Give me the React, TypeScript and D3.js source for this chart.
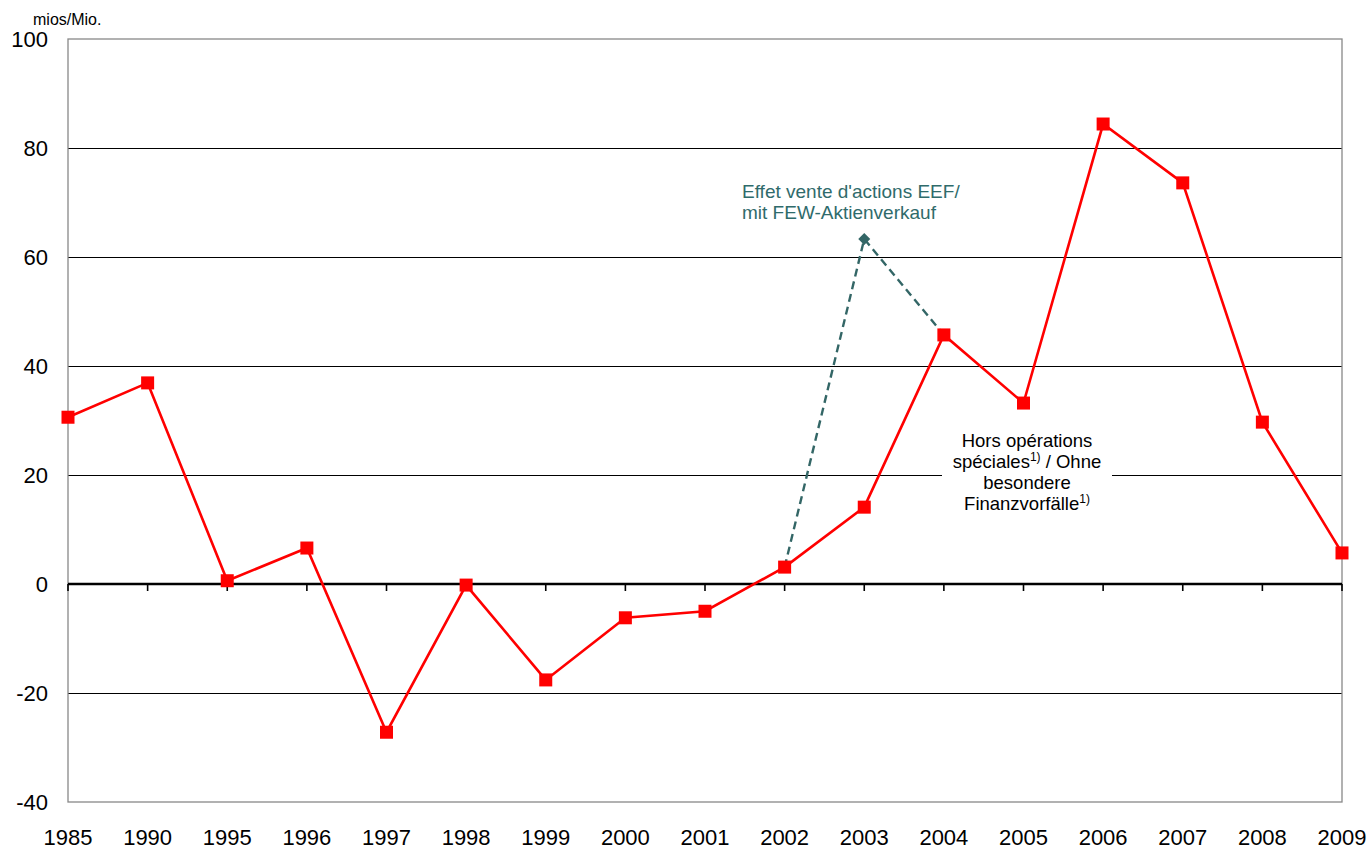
import React from "react";
import * as d3 from "d3";

const years = ["1985","1990","1995","1996","1997","1998","1999","2000","2001","2002","2003","2004","2005","2006","2007","2008","2009"];
const values = [30.6, 36.9, 0.6, 6.6, -27.2, -0.2, -17.6, -6.2, -5.0, 3.1, 14.1, 45.7, 33.2, 84.4, 73.6, 29.7, 5.7];
const specialYears = ["2002", "2003", "2004"];
const specialValues = [3.1, 63.3, 45.7];
const yTicks = [100, 80, 60, 40, 20, 0, -20, -40];

const W = 1370, H = 850;
const left = 68, right = 1342, top = 39, bottom = 802;

export default function App() {
  const x = d3.scalePoint<string>().domain(years).range([left, right]);
  const y = d3.scaleLinear().domain([-40, 100]).range([bottom, top]);
  const line = d3.line<number>().x((_, i) => x(years[i])!).y((d) => y(d));
  const dashLine = d3.line<number>().x((_, i) => x(specialYears[i])!).y((d) => y(d));
  const font = "Liberation Sans, Arial, sans-serif";
  const peak = { x: x("2003")!, y: y(specialValues[1]) };

  return (
    <svg width={W} height={H} style={{ position: "absolute", left: 0, top: 0 }} fontFamily={font}>
      <rect width={W} height={H} fill="#fff" />
      {/* horizontal gridlines */}
      {yTicks.filter((t) => t !== 0 && t !== 100 && t !== -40).map((t) => (
        <line key={t} x1={left} x2={right} y1={Math.round(y(t)) + 0.5} y2={Math.round(y(t)) + 0.5} stroke="#000" strokeWidth={1} />
      ))}
      {/* plot frame */}
      <rect x={left} y={top} width={right - left} height={bottom - top} fill="none" stroke="#888" strokeWidth={1.3} />
      {/* zero axis with tick marks */}
      <line x1={left} x2={right} y1={y(0)} y2={y(0)} stroke="#000" strokeWidth={2.6} />
      {years.map((yr) => (
        <line key={yr} x1={x(yr)} x2={x(yr)} y1={y(0)} y2={y(0) + 7} stroke="#000" strokeWidth={1.6} />
      ))}
      {/* y tick labels */}
      {yTicks.map((t) => (
        <text key={t} x={48} y={y(t)} dy="0.36em" textAnchor="end" fontSize={22} fill="#000">{t}</text>
      ))}
      <text x={33} y={25} fontSize={16} fill="#000">mios/Mio.</text>
      {/* x tick labels */}
      {years.map((yr) => (
        <text key={yr} x={x(yr)} y={845} textAnchor="middle" fontSize={22} fill="#000">{yr}</text>
      ))}
      {/* label box for the main series */}
      <rect x={942} y={425} width={170} height={92} fill="#fff" />
      <g fontSize={18.5} fill="#000" textAnchor="middle">
        <text x={1027} y={447}>Hors opérations</text>
        <text x={1027} y={468}>spéciales<tspan fontSize={12} dy={-7}>1)</tspan><tspan dy={7}> / Ohne</tspan></text>
        <text x={1027} y={489}>besondere</text>
        <text x={1027} y={510}>Finanzvorfälle<tspan fontSize={12} dy={-7}>1)</tspan></text>
      </g>
      {/* series including special operations */}
      <path d={dashLine(specialValues)!} fill="none" stroke="#336666" strokeWidth={2.4} strokeDasharray="8,5" />
      <path d={`M${peak.x},${peak.y - 6}L${peak.x + 6},${peak.y}L${peak.x},${peak.y + 6}L${peak.x - 6},${peak.y}Z`} fill="#336666" />
      <g fontSize={19} fill="#2F6B6B">
        <text x={742} y={198}>Effet vente d'actions EEF/</text>
        <text x={742} y={219}>mit FEW-Aktienverkauf</text>
      </g>
      {/* main series */}
      <path d={line(values)!} fill="none" stroke="#FF0000" strokeWidth={2.6} />
      {values.map((v, i) => (
        <rect key={i} x={x(years[i])! - 6.5} y={y(v) - 6.5} width={13} height={13} fill="#FF0000" />
      ))}
    </svg>
  );
}
